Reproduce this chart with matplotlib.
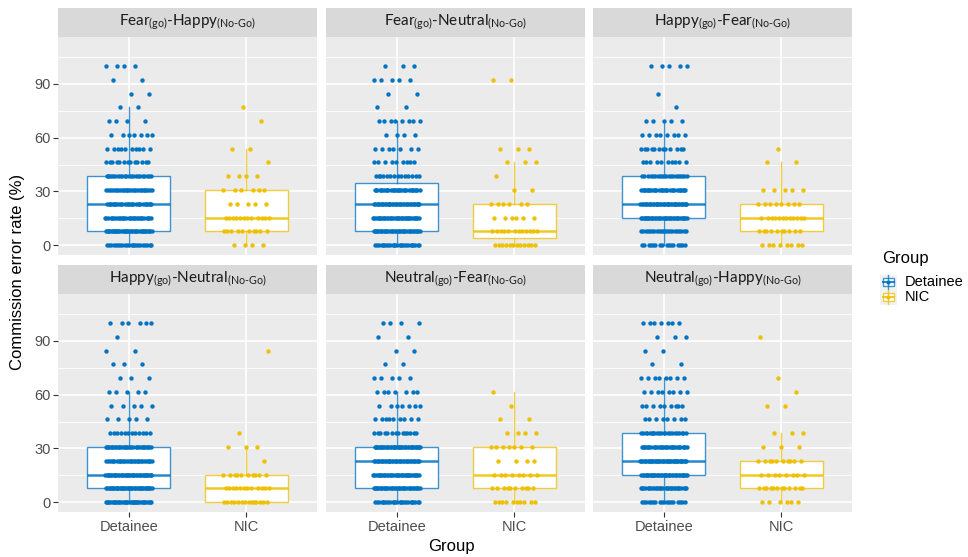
import numpy as np
import matplotlib.pyplot as plt
from matplotlib.patches import Rectangle
from matplotlib.colors import to_rgba

plt.rcParams['font.family'] = ['Liberation Sans', 'DejaVu Sans']
plt.rcParams['mathtext.fontset'] = 'custom'
plt.rcParams['mathtext.rm'] = 'Lato'
plt.rcParams['mathtext.it'] = 'Lato:italic'
plt.rcParams['mathtext.bf'] = 'Lato:bold'

# error-rate levels (k of 13 no-go trials, in %)
LEVELS = [0, 7.69, 15.38, 23.08, 30.77, 38.46, 46.15, 53.85, 61.54, 69.23, 76.92, 84.62, 92.31, 100]

FACETS = [
    r"Fear$_{\text{(go)}}$-Happy$_{\text{(No-Go)}}$",
    r"Fear$_{\text{(go)}}$-Neutral$_{\text{(No-Go)}}$",
    r"Happy$_{\text{(go)}}$-Fear$_{\text{(No-Go)}}$",
    r"Happy$_{\text{(go)}}$-Neutral$_{\text{(No-Go)}}$",
    r"Neutral$_{\text{(go)}}$-Fear$_{\text{(No-Go)}}$",
    r"Neutral$_{\text{(go)}}$-Happy$_{\text{(No-Go)}}$",
]
GROUPS = ["Detainee", "NIC"]
COLORS = ["#0073C2", "#EFC000"]

# number of participants at each level, one row per facet
DETAINEE_COUNTS = [
    [22, 38, 30, 30, 28, 22, 13, 10, 7, 4, 2, 2, 2, 4],
    [25, 35, 35, 36, 30, 14, 9, 7, 4, 8, 2, 2, 5, 3],
    [16, 22, 35, 38, 30, 20, 10, 12, 8, 5, 1, 1, 0, 5],
    [35, 40, 40, 30, 33, 12, 5, 5, 5, 3, 3, 2, 1, 6],
    [25, 35, 35, 35, 40, 14, 9, 7, 7, 5, 2, 2, 2, 4],
    [18, 30, 38, 40, 32, 22, 8, 9, 8, 8, 2, 2, 3, 7],
]
NIC_COUNTS = [
    [4, 10, 12, 5, 6, 4, 1, 2, 0, 1, 1, 0, 0, 0],
    [12, 12, 6, 6, 2, 1, 3, 3, 0, 0, 0, 0, 2, 0],
    [8, 10, 12, 8, 5, 0, 2, 1, 0, 0, 0, 0, 0, 0],
    [14, 12, 10, 1, 3, 1, 0, 0, 0, 0, 0, 1, 0, 0],
    [10, 10, 8, 4, 7, 4, 2, 1, 1, 0, 0, 0, 0, 0],
    [6, 12, 8, 10, 3, 3, 0, 2, 1, 1, 0, 0, 1, 0],
]

W, H = 968, 557
fig = plt.figure(figsize=(W / 100, H / 100), dpi=100)


def px_axes(x0, y0, w, h):
    return fig.add_axes([x0 / W, 1 - (y0 + h) / H, w / W, h / H])


def jitter(n, half=0.2):
    # deterministic spread (golden ratio sequence)
    i = np.arange(1, n + 1)
    return ((i * 0.6180339887) % 1 - 0.5) * 2 * half


col_x = [58, 326, 593]
row_y = [37, 294]
pw, ph = 259, 218
strip_h = 29

for f, title in enumerate(FACETS):
    r, c = divmod(f, 3)
    ax = px_axes(col_x[c], row_y[r], pw, ph)
    ax.set_facecolor('#EBEBEB')
    for s in ax.spines.values():
        s.set_visible(False)
    ax.set_xlim(0.4, 2.6)
    ax.set_ylim(-5.5, 116.2)
    for y in [15, 45, 75, 105]:
        ax.axhline(y, color='white', lw=0.6, zorder=0)
    for y in [0, 30, 60, 90]:
        ax.axhline(y, color='white', lw=1.2, zorder=0)
    for x in [1, 2]:
        ax.axvline(x, color='white', lw=1.2, zorder=0)

    for g, counts in enumerate([DETAINEE_COUNTS[f], NIC_COUNTS[f]]):
        vals = np.repeat(LEVELS, counts)
        line_col = to_rgba(COLORS[g], 0.75)
        ax.boxplot([vals], positions=[g + 1], widths=0.7, whis=1.5,
                   showfliers=False, patch_artist=True,
                   boxprops=dict(facecolor='white', edgecolor=line_col, lw=1.0),
                   whiskerprops=dict(color=line_col, lw=1.0),
                   capprops=dict(lw=0),
                   medianprops=dict(color=to_rgba(COLORS[g], 0.85), lw=1.8),
                   zorder=2)
        ax.scatter(g + 1 + jitter(len(vals)), vals, s=10, color=COLORS[g],
                   linewidths=0, zorder=3)

    ax.set_yticks([0, 30, 60, 90])
    ax.set_xticks([1, 2])
    ax.tick_params(length=3.5, color='#333333', labelcolor='#4D4D4D',
                   labelsize=10.5, pad=2)
    if c == 0:
        ax.set_yticklabels(['0', '30', '60', '90'])
    else:
        ax.tick_params(axis='y', length=0, labelleft=False)
    if r == 1:
        ax.set_xticklabels(GROUPS)
    else:
        ax.tick_params(axis='x', length=0, labelbottom=False)

    ax.add_patch(Rectangle((0, 1), 1, strip_h / ph, transform=ax.transAxes,
                           facecolor='#D9D9D9', edgecolor='none', clip_on=False))
    ax.text(0.5, 1 + strip_h / ph / 2, title, transform=ax.transAxes,
            ha='center', va='center', fontsize=11, color='#1A1A1A',
            family='Lato')

fig.text(18 / W, 1 - 272 / H, 'Commission error rate (%)', rotation=90,
         ha='center', va='center', fontsize=12)
fig.text(451 / W, 1 - 547 / H, 'Group', ha='center', va='center', fontsize=12)

# legend
lg = px_axes(876, 245, 90, 65)
lg.set_xlim(876, 966)
lg.set_ylim(310, 245)
lg.axis('off')
lg.text(882, 258, 'Group', ha='left', va='center', fontsize=12)
for g, (name, col) in enumerate(zip(GROUPS, COLORS)):
    yc = 282 + 15 * g
    lg.add_patch(Rectangle((880, yc - 7.5), 17, 15, facecolor='#F2F2F2',
                           edgecolor='none'))
    lg.plot([888.5, 888.5], [yc - 7, yc + 7], color=to_rgba(col, 0.75), lw=1)
    lg.add_patch(Rectangle((883, yc - 4), 11, 8, facecolor='white',
                           edgecolor=to_rgba(col, 0.75), lw=1))
    lg.plot([883, 894], [yc, yc], color=to_rgba(col, 0.85), lw=1.5)
    lg.scatter([888.5], [yc], s=9, color=col, linewidths=0, zorder=3)
    lg.text(905, yc, name, ha='left', va='center', fontsize=10.5)

fig.savefig('out.png', dpi=100)
